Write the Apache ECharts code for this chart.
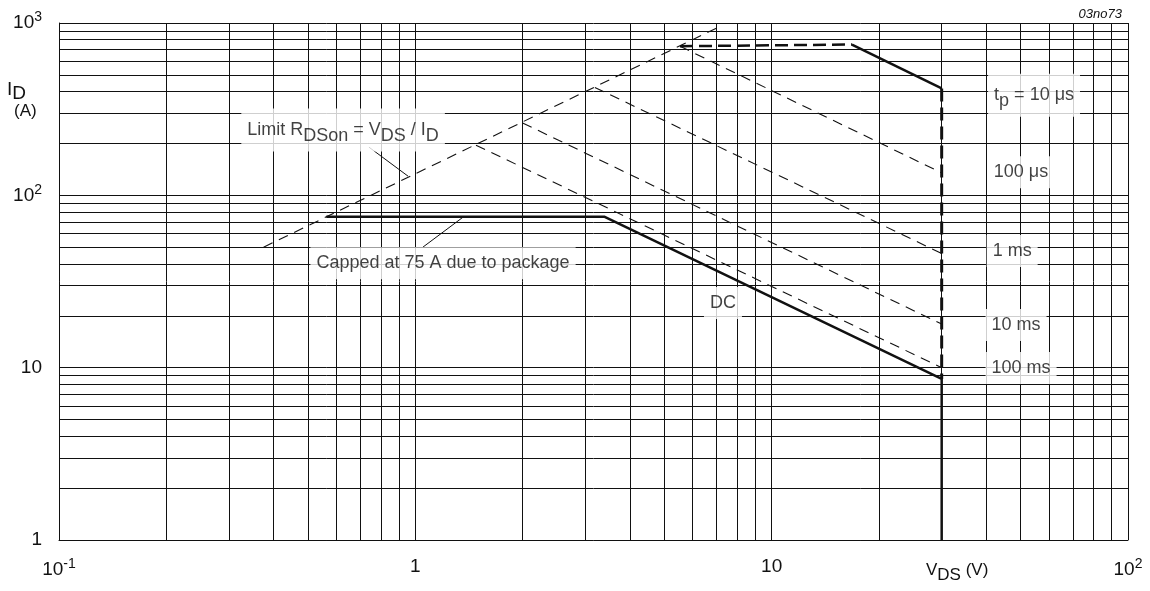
<!DOCTYPE html>
<html>
<head>
<meta charset="UTF-8">
<title>Safe operating area</title>
<script src="https://cdn.jsdelivr.net/npm/echarts@6/dist/echarts.min.js"></script>
<style>
  html, body { margin: 0; padding: 0; background: #fff; }
  #main { width: 1150px; height: 591px; }
</style>
</head>
<body>
<div id="main"></div>
<script>
// axis decades and tick labels
const xDecades = [0.1, 1, 10];
const yDecades = [1, 10, 100];
const mantissas = [1, 2, 3, 4, 5, 6, 7, 8, 9];
const xTicks = [0.1, 1, 10, 100];
const xTickText = ['{n|10}{p|-1}', '{n|1}', '{n|10}', '{n|10}{p|2}'];
const yTicks = [1, 10, 100, 1000];
const yTickText = ['{n|1}', '{n|10}', '{n|10}{p|2}', '{n|10}{p|3}'];

// curves (VDS in V, ID in A)
const limitLine = [[0.375, 50], [7.25, 967]];
const tp10usTop = [[5.53, 733], [16.8, 750]];
const tp10usSlope = [[16.8, 750], [30, 417]];
const tp10usEdge = [[30, 417], [30, 8.6]];
const tp100us = [[5.53, 733], [30, 135]];
const tp1ms = [[3.19, 423], [30, 46]];
const tp10ms = [[2.0, 263], [30, 17.9]];
const tp100ms = [[1.48, 195.5], [30, 10]];
const dcLine = [[0.5625, 75], [3.4, 75], [30, 8.6], [30, 1]];

// annotation texts and where they sit (data units)
const noteText = [
  '{n|Limit R}{s|DSon}{n| = V}{s|DS}{n| / I}{s|D}',
  '{n|Capped at 75 A due to package}',
  '{n|DC}',
  '{n|t}{s|p}{n| = 10 μs}',
  '{n|100 μs}',
  '{n|1 ms}',
  '{n|10 ms}',
  '{n|100 ms}'
];
const noteAt = [
  [0.627, 239], [1.196, 40.4], [7.30, 23.7], [54.5, 381],
  [50.1, 136], [47.3, 47.5], [48.5, 17.7], [50.1, 9.95]
];
const leaders = [
  [[0.741, 190.4], [0.954, 129.2]],
  [[1.051, 50.1], [1.361, 74.7]]
];

const FONT = 'Liberation Sans, Arial, sans-serif';
const INK = '#111';

let gridX = [];
xDecades.forEach(function (d) { mantissas.forEach(function (m) { gridX.push(m * d); }); });
gridX.push(100);
let gridY = [];
yDecades.forEach(function (d) { mantissas.forEach(function (m) { gridY.push(m * d); }); });
gridY.push(1000);

let gridData = [];
gridX.forEach(function (x) { gridData.push({ coords: [[x, 1], [x, 1000]] }); });
gridY.forEach(function (y) { gridData.push({ coords: [[0.1, y], [100, y]] }); });

function tickText(v, ticks, texts) {
  for (let i = 0; i < ticks.length; i++) {
    if (Math.abs(Math.log10(v) - Math.log10(ticks[i])) < 1e-6) return texts[i];
  }
  return '';
}

const tickRich = {
  n: { fontSize: 19, fontFamily: FONT, color: INK },
  p: { fontSize: 14, fontFamily: FONT, color: INK, padding: [0, 0, 11, 0] }
};
const noteRich = {
  n: { fontSize: 18, fontFamily: FONT, color: INK },
  s: { fontSize: 18, fontFamily: FONT, color: INK, padding: [11, 0, 0, 0] }
};

function curve(data, width, dashed, dash) {
  return {
    type: 'line',
    data: data,
    symbol: 'none',
    silent: true,
    z: 5,
    lineStyle: {
      color: INK,
      width: width,
      type: dashed ? dash : 'solid'
    }
  };
}

let myChart = echarts.init(document.getElementById('main'), null, { renderer: 'canvas' });
let option = {
  animation: false,
  backgroundColor: '#fff',
  grid: { left: 59, right: 22, top: 23, bottom: 51 },
  xAxis: {
    type: 'log',
    logBase: 10,
    min: 0.1,
    max: 100,
    axisLine: { show: true, lineStyle: { color: INK, width: 1 } },
    axisTick: { show: false },
    splitLine: { show: false },
    axisLabel: {
      margin: 17,
      color: INK,
      showMinLabel: true,
      showMaxLabel: true,
      formatter: function (v) { return tickText(v, xTicks, xTickText); },
      rich: tickRich
    }
  },
  yAxis: {
    type: 'log',
    logBase: 10,
    min: 1,
    max: 1000,
    axisLine: { show: true, lineStyle: { color: INK, width: 1 } },
    axisTick: { show: false },
    splitLine: { show: false },
    axisLabel: {
      margin: 17,
      color: INK,
      showMinLabel: true,
      showMaxLabel: true,
      formatter: function (v) { return tickText(v, yTicks, yTickText); },
      rich: tickRich
    }
  },
  graphic: [
    {
      type: 'text', left: 7, top: 80,
      style: { text: '{n|I}{s|D}', fill: INK, rich: {
        n: { fontSize: 19, fontFamily: FONT, fill: INK, color: INK },
        s: { fontSize: 19, fontFamily: FONT, fill: INK, color: INK, padding: [9, 0, 0, 0] }
      } }
    },
    {
      type: 'text', left: 14, top: 103,
      style: { text: '(A)', font: '17px ' + FONT, fill: INK }
    },
    {
      type: 'text', left: 926, top: 562,
      style: { text: '{n|V}{s|DS}{n| (V)}', fill: INK, rich: {
        n: { fontSize: 17, fontFamily: FONT, fill: INK, color: INK },
        s: { fontSize: 17, fontFamily: FONT, fill: INK, color: INK, padding: [10, 0, 0, 0] }
      } }
    },
    {
      type: 'text', right: 28, top: 8,
      style: { text: '03no73', font: 'italic 13px ' + FONT, fill: INK }
    }
  ],
  series: [
    {
      type: 'lines',
      coordinateSystem: 'cartesian2d',
      silent: true,
      z: 1,
      lineStyle: { color: INK, width: 1, opacity: 1 },
      data: gridData
    },
    curve(limitLine, 1.1, true, [10, 7]),
    curve(tp100us, 1.1, true, [10, 7]),
    curve(tp1ms, 1.1, true, [10, 7]),
    curve(tp10ms, 1.1, true, [10, 7]),
    curve(tp100ms, 1.1, true, [10, 7]),
    curve(tp10usTop, 2.5, true, [13, 6]),
    curve(tp10usSlope, 2.5, false),
    curve(tp10usEdge, 3, true, [13, 6]),
    curve(dcLine, 2.5, false),
    {
      type: 'lines',
      coordinateSystem: 'cartesian2d',
      silent: true,
      z: 6,
      lineStyle: { color: INK, width: 1, opacity: 1 },
      data: leaders.map(function (c) { return { coords: c }; })
    },
    {
      type: 'scatter',
      silent: true,
      z: 10,
      symbolSize: 0,
      data: noteAt.map(function (p, i) { return { value: p, name: noteText[i] }; }),
      label: {
        show: true,
        position: 'inside',
        color: INK,
        backgroundColor: '#fff',
        padding: [7, 6, 7, 6],
        formatter: function (p) { return p.name; },
        rich: noteRich
      }
    }
  ]
};
myChart.setOption(option);

window.addEventListener('resize', function () {
  myChart.resize();
});
</script>
</body>
</html>
